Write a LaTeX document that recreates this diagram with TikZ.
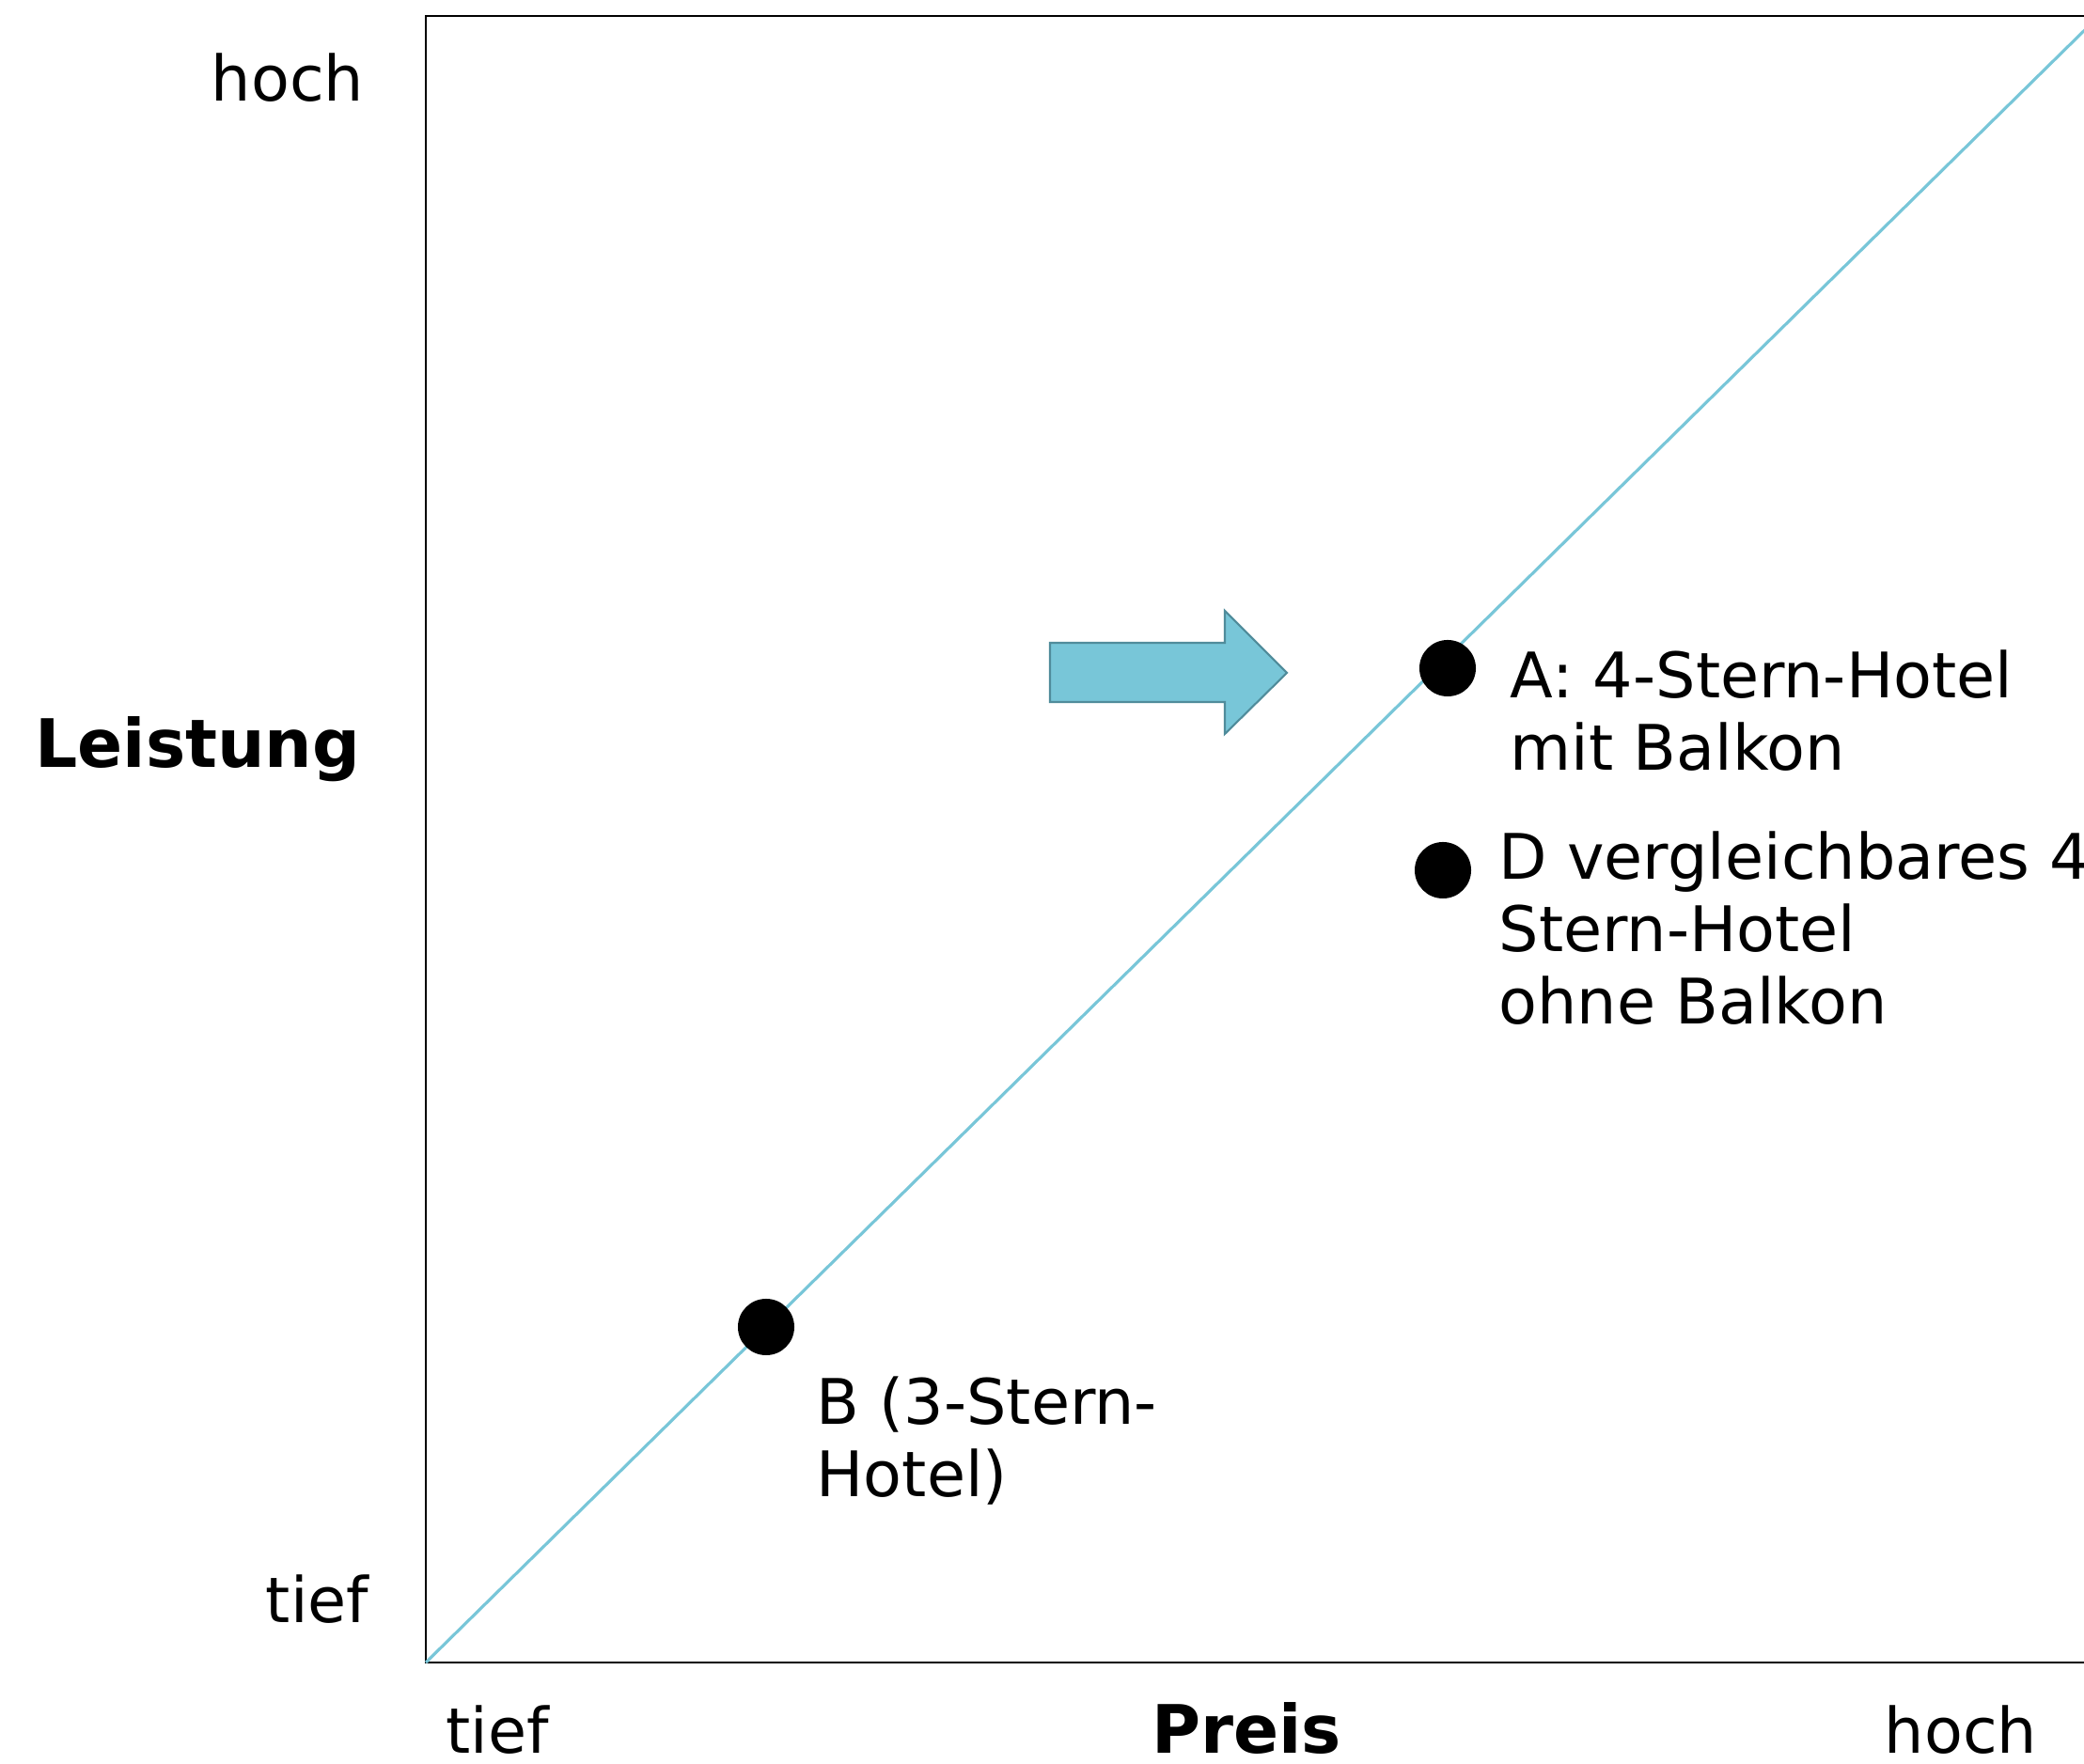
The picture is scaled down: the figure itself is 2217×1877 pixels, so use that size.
\documentclass[tikz,border=0pt]{standalone}
\usepackage{fontspec}
\setmainfont{DejaVu Sans}
\usetikzlibrary{positioning,calc}
\definecolor{lineblue}{RGB}{120,198,216}
\definecolor{arrowedge}{RGB}{80,140,155}

\tikzset{
  lbl/.style={inner sep=0pt, align=left, font=\fontsize{19}{21.9}\selectfont},
  axislbl/.style={lbl, font=\fontsize{20.2}{22}\selectfont\bfseries},
  dot/.style={circle, fill=black, inner sep=0pt, minimum size=6mm},
  frame/.style={draw=black, line width=0.6pt},
  trend/.style={draw=lineblue, line width=0.9pt},
  shiftarrow/.style={fill=lineblue, draw=arrowedge, line width=0.6pt, line join=miter},
}

\begin{document}
\begin{tikzpicture}[x=0.01cm, y=-0.01cm]
    \useasboundingbox (0,0) rectangle (2217,1877);
    % frame and diagonal
    \coordinate (ll) at (453,1769);
    \coordinate (ur) at (2233,17);
    \draw[frame] (ll) rectangle (ur);
    \draw[trend] (ll) -- (ur);
    % arrow
    \draw[shiftarrow] (1117,684) -- (1303,684) -- (1303,650) -- (1369,716)
        -- (1303,781) -- (1303,747) -- (1117,747) -- cycle;
    % hotels (base anchor = last line)
    \node[dot] (hotelA) at (1540,711) {};
    \node[dot] (hotelD) at (1535,926) {};
    \node[dot] (hotelB) at (815,1412) {};
    \node[lbl, anchor=base west] (labA) at (1606,820) {A: 4-Stern-Hotel\\mit Balkon};
    \node[lbl, anchor=base west] (labD) at (1594,1090) {D vergleichbares 4-\\Stern-Hotel\\ohne Balkon};
    \node[lbl, anchor=base west] (labB) at (868,1593) {B (3-Stern-\\Hotel)};
    % axis labels
    \node[lbl, anchor=base east] (yhigh) at (388,108) {hoch};
    \node[axislbl, anchor=base east] (ytitle) at (384,817) {Leistung};
    \node[lbl, anchor=base east] (ylow) at (393,1727) {tief};
    \node[lbl, anchor=base west] (xlow) at (474,1866) {tief};
    \node[axislbl, anchor=base] (xtitle) at (1326,1866) {Preis};
    \node[lbl, anchor=base] (xhigh) at (2086,1866) {hoch};
\end{tikzpicture}
\end{document}
